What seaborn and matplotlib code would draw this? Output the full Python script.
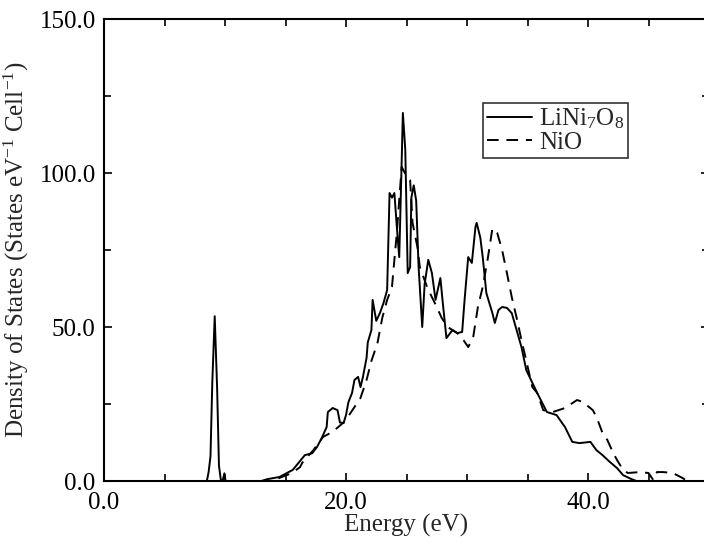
import numpy as np
import pandas as pd
import matplotlib
matplotlib.use("Agg")
import matplotlib.pyplot as plt
import seaborn as sns
from matplotlib.ticker import MultipleLocator, FormatStrFormatter

# ---- data ----
li_energy = [0, 8.5, 8.65, 8.8, 8.95, 9.15, 9.35, 9.5, 9.65, 9.8, 9.95, 10.05,
             13.0, 13.5, 14.5, 15.6, 16.6, 17.2, 17.6, 18.0, 18.4, 18.5,
             18.9, 19.3, 19.5, 19.8, 20.0, 20.2, 20.5, 20.7, 21.0, 21.2,
             21.4, 21.7, 21.8, 22.1, 22.2, 22.5, 22.8, 23.1, 23.4, 23.6,
             23.8, 24.0, 24.2, 24.4, 24.5, 24.7, 24.9, 25.1, 25.3, 25.4,
             25.6, 25.8, 26.0, 26.3, 26.5, 26.8, 27.1, 27.4, 27.8, 28.0,
             28.3, 28.8, 29.2, 29.6, 29.8, 30.1, 30.4, 30.7, 30.8, 31.1,
             31.3, 31.6, 32.1, 32.3, 32.6, 32.9, 33.3, 33.7, 34.1, 34.5,
             34.9, 35.8, 36.6, 37.4, 38.1, 38.7, 39.3, 40.2, 40.7, 41.2,
             41.8, 42.4, 42.9, 43.6, 44.0, 50]
li_dos = [0, 0, 3, 8, 32, 53.5, 30, 5, 0.5, 0, 2.5, 0,
          0, 0.6, 1.3, 3.6, 8.4, 9, 11, 14, 17.5, 22.4,
          23.7, 23, 19, 18.8, 21.4, 25.6, 28.6, 32.8, 33.8, 30.5,
          33.8, 40, 45, 49, 58.8, 52, 54.5, 57.8, 62, 93.5,
          92, 93.5, 82.5, 72.7, 88, 119.5, 107.5, 67.5, 69.5, 92,
          96, 91, 69.5, 50, 64, 71.8, 67.5, 58.8, 65.9, 57.8,
          46.4, 49, 48, 48.4, 58.8, 72.7, 70.8, 82.5, 83.8, 79,
          72.7, 61, 54.5, 51.3, 55.5, 56.5, 56.2, 54.5, 49, 43.5,
          36, 28.6, 22.4, 21.4, 17.5, 12.7, 12.3, 12.7, 10, 8.4,
          6.2, 4.2, 1.9, 0.6, 0, 0]

nio_energy = [0, 14.0, 14.5, 15.5, 16.2, 16.4, 17.3, 18.1, 18.9, 19.8,
              20.1, 20.7, 21.2, 21.7, 22.1, 22.6, 23.0, 23.4, 23.8, 23.9,
              24.2, 24.6, 25.0, 25.3, 25.5, 25.9, 26.1, 26.7, 27.1, 27.5,
              27.9, 28.4, 29.2, 29.7, 30.1, 30.5, 30.9, 31.3, 31.7, 32.1,
              32.5, 32.9, 33.3, 33.7, 34.1, 34.5, 35.4, 35.8, 36.3, 37.1,
              38.1, 39.1, 39.6, 40.4, 40.7, 41.2, 41.6, 42.1, 42.4, 42.9,
              43.3, 44.3, 45.0, 45.4, 45.7, 46.2, 47.0, 47.8, 48.2, 50]
nio_dos = [0, 0, 1, 2.5, 4.5, 6, 10, 14.3, 16, 19,
           20.5, 24, 27, 32.8, 39, 44.8, 53, 58.8, 63, 67.5,
           80.5, 102, 99, 97.7, 83.8, 76, 69.5, 63, 59.7, 56.5,
           53, 50, 48, 45.8, 43.5, 46.4, 56.5, 63, 71.8, 82,
           80.5, 75, 67.5, 59.7, 53, 45.8, 30.5, 28.6, 23, 22.4,
           23.7, 26.3, 25.6, 23, 20.8, 15.6, 13.3, 9, 6.8, 3.6,
           2.6, 2.9, 2.6, 0.3, 2.9, 2.9, 2.6, 1, 0, 0]

series_labels = ["LiNi$_7$O$_8$", "NiO"]
x_label = "Energy (eV)"
y_label = "Density of States (States eV$^{-1}$ Cell$^{-1}$)"

# ---- build table ----
df = pd.concat([
    pd.DataFrame({"energy": li_energy, "dos": li_dos, "system": series_labels[0]}),
    pd.DataFrame({"energy": nio_energy, "dos": nio_dos, "system": series_labels[1]}),
], ignore_index=True)

sns.set_theme(style="ticks")
plt.rcParams["font.family"] = "serif"
plt.rcParams["font.serif"] = ["Liberation Serif", "DejaVu Serif"]
plt.rcParams["mathtext.fontset"] = "custom"
plt.rcParams["mathtext.rm"] = "Liberation Serif"
plt.rcParams["mathtext.it"] = "Liberation Serif:italic"

W, H = 704, 542
fig = plt.figure(figsize=(W / 100, H / 100), dpi=100)
ax = fig.add_axes([104 / W, 1 - 481 / H, 605 / W, 462 / H])

sns.lineplot(data=df, x="energy", y="dos", style="system",
             dashes={series_labels[0]: "", series_labels[1]: (6, 4)},
             color="black", linewidth=1.4, sort=False, estimator=None,
             ax=ax, legend=True)

ax.set_xlim(0, 50)
ax.set_ylim(0, 150)
ax.xaxis.set_major_locator(MultipleLocator(20))
ax.xaxis.set_minor_locator(MultipleLocator(5))
ax.yaxis.set_major_locator(MultipleLocator(50))
ax.yaxis.set_minor_locator(MultipleLocator(25))
ax.xaxis.set_major_formatter(FormatStrFormatter("%.1f"))
ax.yaxis.set_major_formatter(FormatStrFormatter("%.1f"))
ax.tick_params(which="both", direction="in", top=True, right=True,
               width=1.2, colors="black", labelsize=18)
ax.tick_params(axis="x", which="major", pad=8)
ax.tick_params(axis="y", which="major", pad=6)
ax.tick_params(which="major", length=6)
ax.tick_params(which="minor", length=5)
for s in ax.spines.values():
    s.set_linewidth(1.5)
    s.set_color("black")

ax.set_xlabel(x_label, fontsize=18, labelpad=0)
ax.set_ylabel(y_label, fontsize=18, labelpad=6)

handles, labels = ax.get_legend_handles_labels()
leg = ax.legend(handles, labels, loc="upper left",
                bbox_to_anchor=(483 / W, 1 - 103 / H), bbox_transform=fig.transFigure,
                frameon=True, fancybox=False, shadow=False, fontsize=18,
                handlelength=1.8, handletextpad=0.3, labelspacing=0.0,
                borderpad=0.15, borderaxespad=0, title=None)
leg.get_frame().set_edgecolor("black")
leg.get_frame().set_linewidth(1.2)
for h in leg.get_lines():
    h.set_color("black")
    h.set_linewidth(1.4)

fig.savefig("out.png", dpi=100)
